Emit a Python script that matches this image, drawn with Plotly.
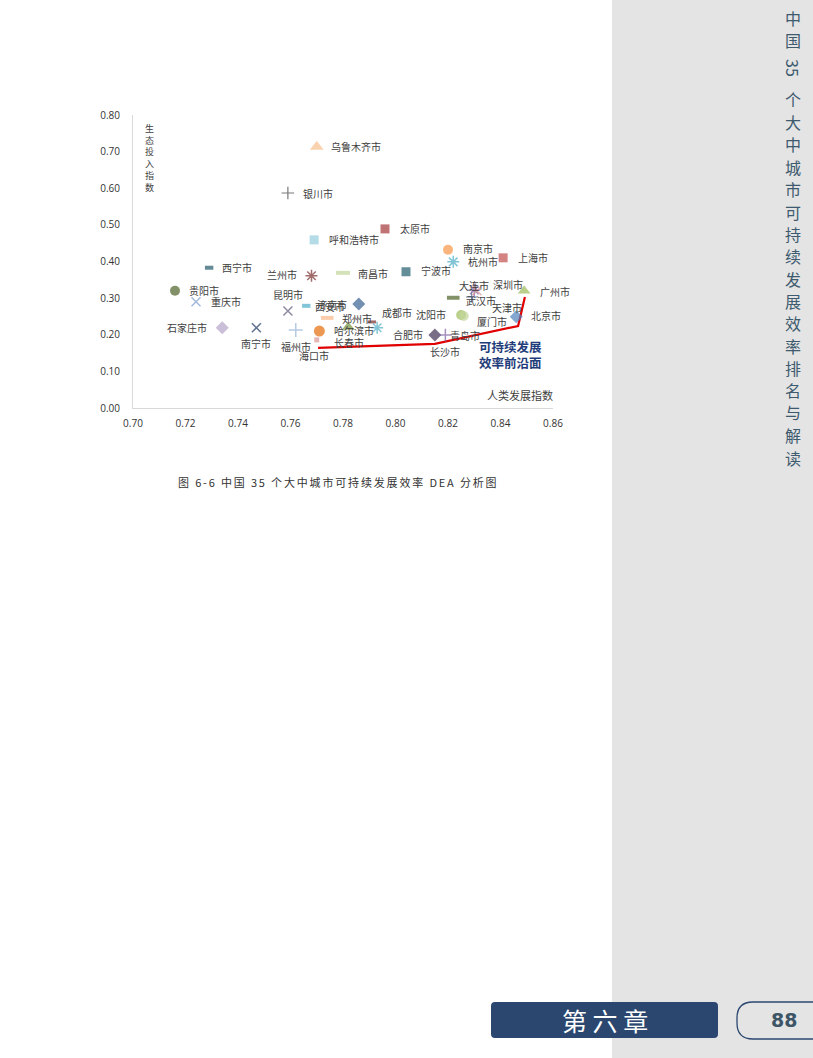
import plotly.graph_objects as go

# ---------------- data ----------------
cities = ["乌鲁木齐市", "银川市", "太原市", "呼和浩特市", "南京市", "杭州市", "上海市",
          "西宁市", "兰州市", "南昌市", "宁波市", "贵阳市", "重庆市", "昆明市",
          "济南市", "西安市", "郑州市", "哈尔滨市", "长春市", "海口市", "福州市",
          "南宁市", "石家庄市", "成都市", "合肥市", "长沙市", "青岛市", "沈阳市",
          "厦门市", "武汉市", "天津市", "大连市", "深圳市", "广州市", "北京市"]
hdi = [0.770, 0.759, 0.796, 0.769, 0.820, 0.822, 0.841,
       0.729, 0.768, 0.780, 0.804, 0.716, 0.724, 0.759,
       0.766, 0.786, 0.774, 0.771, 0.782, 0.770, 0.762,
       0.747, 0.734, 0.791, 0.793, 0.815, 0.819, 0.825,
       0.826, 0.822, 0.829, 0.830, 0.831, 0.849, 0.846]
eco = [0.713, 0.587, 0.489, 0.459, 0.432, 0.399, 0.410,
       0.383, 0.361, 0.369, 0.372, 0.320, 0.290, 0.265,
       0.279, 0.284, 0.246, 0.210, 0.221, 0.186, 0.213,
       0.219, 0.219, 0.235, 0.219, 0.199, 0.199, 0.254,
       0.251, 0.301, 0.303, 0.322, 0.320, 0.320, 0.249]
frontier_x = [0.7705, 0.8150, 0.8467, 0.8493]
frontier_y = [0.164, 0.175, 0.224, 0.303]
x_ticks = [0.70, 0.72, 0.74, 0.76, 0.78, 0.80, 0.82, 0.84, 0.86]
y_ticks = [0.00, 0.10, 0.20, 0.30, 0.40, 0.50, 0.60, 0.70, 0.80]
x_title = "人类发展指数"
y_title = "生态投入指数"
frontier_label = "可持续发展<br>效率前沿面"
caption = "图 6-6 中国 35 个大中城市可持续发展效率 DEA 分析图"
side_title = ["中", "国", "35", "个", "大", "中", "城", "市", "可", "持", "续", "发",
              "展", "效", "率", "排", "名", "与", "解", "读"]
chapter = "第 六 章"
page_no = "88"

# ---------------- styles ----------------
# (symbol, color, size, line width)
styles = [
    ("triangle-up", "#f6c08f", 12, 0), ("cross-thin-open", "#404040", 9, 1.2),
    ("square", "#a5383a", 9, 0), ("square", "#93cddd", 9, 0),
    ("circle", "#f79646", 10, 0), ("asterisk-open", "#4bacc6", 10, 1.5),
    ("square", "#c0504d", 9, 0), ("line-ew-open", "#215868", 6, 4),
    ("asterisk-open", "#7a2e2e", 10, 1.5), ("line-ew-open", "#c3d69b", 10, 4),
    ("square", "#215e6e", 9, 0), ("circle", "#4f6228", 10, 0),
    ("x-thin-open", "#7d9ccc", 9, 1.5), ("x-thin-open", "#60597a", 9, 1.5),
    ("line-ew-open", "#4bacc6", 6, 4), ("diamond", "#376092", 10, 0),
    ("line-ew-open", "#fab788", 9, 4), ("circle", "#e46c0a", 11, 0),
    ("triangle-up", "#77933c", 11, 0), ("square", "#d99694", 5, 0),
    ("cross-thin-open", "#95b3d7", 10, 1.5), ("x-thin-open", "#1f3864", 9, 1.5),
    ("diamond", "#b3a2c7", 10, 0), ("line-ew-open", "#7b2c2c", 6, 3),
    ("asterisk-open", "#4bacc6", 10, 1.5), ("diamond", "#403152", 10, 0),
    ("cross-thin-open", "#8064a2", 9, 1.5), ("circle", "#9bbb59", 10, 0),
    ("circle", "#c3d69b", 10, 0), ("line-ew-open", "#4f6228", 9, 4),
    ("cross-thin-open", "#1f497d", 8, 1), ("asterisk-open", "#8064a2", 10, 1.5),
    ("x-thin-open", "#d99694", 9, 1.5), ("triangle-up", "#9bbb59", 11, 0),
    ("diamond", "#4f81bd", 10, 0),
]
# label placement: (xanchor, xshift, yshift) in px
label_pos = [
    ("left", 12, 0), ("left", 13, 0), ("left", 13, 0), ("left", 13, 0),
    ("left", 13, 1), ("left", 13, 0), ("left", 13, 0), ("left", 11, 0),
    ("right", -13, 1), ("left", 13, -1), ("left", 13, 1), ("left", 12, 0),
    ("left", 13, 0), ("center", 0, 16), ("left", 9, 1), ("right", -12, -3),
    ("left", 13, -1), ("left", 13, 1), ("center", 1, -15), ("center", -3, -16),
    ("center", 0, -17), ("center", 0, -16), ("right", -13, 0), ("left", 8, 9),
    ("left", 14, -7), ("center", 10, -16), ("left", 3, 0), ("right", -13, 0),
    ("left", 11, -5), ("left", 11, -3), ("left", 18, -10), ("center", 0, 5),
    ("left", 14, 6), ("left", 14, -1), ("left", 13, 1),
]

W, H = 813, 1058
def px(x):
    return x / W
def py(y):
    return 1 - y / H

CJK = "Noto Sans CJK SC"
fig = go.Figure()

fig.add_trace(go.Scatter(
    x=frontier_x, y=frontier_y, mode="lines",
    line=dict(color="#e00000", width=2.2), hoverinfo="skip", showlegend=False))

fig.add_trace(go.Scatter(
    x=hdi, y=eco, mode="markers", text=cities, showlegend=False,
    marker=dict(
        symbol=[s[0] for s in styles],
        color=[s[1] for s in styles],
        size=[s[2] for s in styles],
        line=dict(color=[s[1] for s in styles], width=[s[3] for s in styles]),
    )))

annotations = []
for name, xv, yv, (xa, xs, ys) in zip(cities, hdi, eco, label_pos):
    annotations.append(dict(
        x=xv, y=yv, xref="x", yref="y", text=name, showarrow=False,
        xanchor=xa, yanchor="middle", xshift=xs, yshift=ys,
        font=dict(family=CJK, size=10, color="#404040")))

# y axis title, stacked vertically
annotations.append(dict(x=px(149), y=py(120), xref="paper", yref="paper",
                        text="<br>".join(list(y_title)), showarrow=False,
                        xanchor="center", yanchor="top", align="center",
                        font=dict(family=CJK, size=9, color="#404040")))
annotations.append(dict(x=px(555), y=py(395), xref="paper", yref="paper",
                        text=x_title, showarrow=False, xanchor="right", yanchor="middle",
                        font=dict(family=CJK, size=11, color="#404040")))
annotations.append(dict(x=px(510), y=py(354), xref="paper", yref="paper",
                        text="<b>" + frontier_label + "</b>", showarrow=False,
                        xanchor="center", yanchor="middle", align="center",
                        font=dict(family=CJK, size=12.5, color="#1f3d7a")))
cap_spaced = "\u2006".join(list(caption))
annotations.append(dict(x=px(337), y=py(482), xref="paper", yref="paper",
                        text=cap_spaced, showarrow=False, xanchor="center", yanchor="middle",
                        font=dict(family=CJK, size=11, color="#333333")))

# side vertical title
ys_side = [18, 40, 68, 99, 122, 144, 167, 189, 212, 234, 256, 279, 301, 323, 346, 368, 390, 412, 435, 458]
for ch, yy in zip(side_title, ys_side):
    annotations.append(dict(x=px(793), y=py(yy), xref="paper", yref="paper", text=ch,
                            showarrow=False, xanchor="center", yanchor="middle",
                            textangle=90 if ch.isdigit() else 0,
                            font=dict(family=CJK, size=16, color="#3d5a6e")))

annotations.append(dict(x=px(605), y=py(1020), xref="paper", yref="paper", text=chapter,
                        showarrow=False, xanchor="center", yanchor="middle",
                        font=dict(family=CJK, size=25, color="#ffffff")))
annotations.append(dict(x=px(784), y=py(1020), xref="paper", yref="paper",
                        text="<b>" + page_no + "</b>", showarrow=False,
                        xanchor="center", yanchor="middle",
                        font=dict(family="DejaVu Sans", size=19, color="#3d5566")))

def rrect(x0, y0, x1, y1, r):
    X0, X1 = px(x0), px(x1)
    Y0, Y1 = py(y0), py(y1)
    rx, ry = r / W, r / H
    return (f"M {X0+rx},{Y0} L {X1-rx},{Y0} Q {X1},{Y0} {X1},{Y0-ry} "
            f"L {X1},{Y1+ry} Q {X1},{Y1} {X1-rx},{Y1} L {X0+rx},{Y1} "
            f"Q {X0},{Y1} {X0},{Y1+ry} L {X0},{Y0-ry} Q {X0},{Y0} {X0+rx},{Y0} Z")

shapes = [
    dict(type="rect", xref="paper", yref="paper", x0=px(612), x1=1, y0=0, y1=1,
         fillcolor="#e4e4e4", line=dict(width=0), layer="below"),
    dict(type="path", xref="paper", yref="paper", path=rrect(491, 1002, 718, 1038, 4),
         fillcolor="#2b4770", line=dict(width=0)),
    dict(type="path", xref="paper", yref="paper", path=rrect(737, 1002, 845, 1039, 16),
         fillcolor="rgba(0,0,0,0)", line=dict(color="#2b4770", width=1.3)),
]

fig.update_layout(
    width=W, height=H, margin=dict(l=0, r=0, t=0, b=0, pad=0), autosize=False,
    paper_bgcolor="white", plot_bgcolor="rgba(0,0,0,0)",
    annotations=annotations, shapes=shapes, showlegend=False,
    xaxis=dict(domain=[px(133), px(553)], range=[0.70, 0.86], tickvals=x_ticks,
               tickformat=".2f", showgrid=False, zeroline=False, showline=True,
               automargin=False,
               linecolor="#d9d9d9", linewidth=1, ticks="", ticklabelstandoff=6,
               tickfont=dict(family="Open Sans", size=10, color="#333333")),
    yaxis=dict(domain=[py(408), py(115)], range=[0, 0.80], tickvals=y_ticks,
               tickformat=".2f", showgrid=False, zeroline=False, showline=True,
               automargin=False,
               linecolor="#d9d9d9", linewidth=1, ticks="", ticklabelstandoff=10,
               tickfont=dict(family="Open Sans", size=10, color="#333333")),
)

fig.write_html("out.html", config={"displayModeBar": False},
               post_script="document.body.style.margin='0';document.body.style.overflow='hidden';")
